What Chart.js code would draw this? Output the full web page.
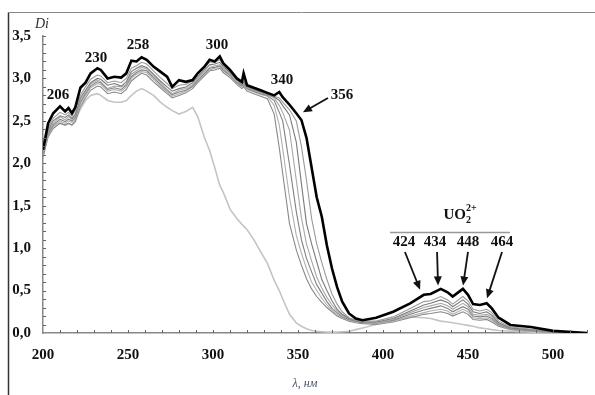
<!DOCTYPE html>
<html>
<head>
<meta charset="utf-8">
<script src="https://cdn.jsdelivr.net/npm/chart.js@4.4.1/dist/chart.umd.min.js"></script>
<style>
  html, body { margin: 0; padding: 0; background: #fff; }
  canvas { display: block; }
</style>
</head>
<body>
<canvas id="spectra" width="595" height="395"></canvas>
<script>
// Wavelength grid (nm) shared by all spectra
const wavelengths = [
  200, 203, 206, 210, 213, 215, 217, 219, 222, 225, 228, 232, 234, 238, 242, 246, 249, 252, 255, 258,
  261, 265, 269, 273, 276, 280, 284, 288, 291, 295, 298, 301, 304, 306, 310, 314, 317, 318, 320, 324,
  328, 332, 336, 339, 341, 345, 349, 352, 355, 358, 361, 364, 367, 370, 373, 376, 380, 384, 388, 396,
  406, 416, 424, 428, 434, 438, 441, 447, 450, 453, 457, 461, 464, 468, 475, 487, 500, 520
];

// Final spectrum (thick black)
const dFinal = [
  2.16, 2.47, 2.59, 2.67, 2.61, 2.65, 2.59, 2.66, 2.89, 2.95, 3.06, 3.12, 3.10, 3.00, 3.02, 3.01, 3.06, 3.21, 3.20, 3.25,
  3.22, 3.14, 3.08, 3.02, 2.90, 2.98, 2.96, 2.98, 3.06, 3.14, 3.22, 3.20, 3.26, 3.18, 3.10, 3.00, 2.96, 3.06, 2.92, 2.89,
  2.86, 2.83, 2.80, 2.84, 2.78, 2.69, 2.59, 2.51, 2.30, 1.95, 1.60, 1.37, 1.03, 0.76, 0.54, 0.37, 0.23, 0.17, 0.15, 0.18,
  0.25, 0.35, 0.45, 0.46, 0.52, 0.48, 0.43, 0.52, 0.45, 0.34, 0.33, 0.35, 0.29, 0.18, 0.095, 0.07, 0.025, 0.0
];

// Intermediate spectra (grey), step 6 is closest to the final one
const dStep6 = [
  2.13, 2.42, 2.53, 2.60, 2.57, 2.60, 2.56, 2.62, 2.80, 2.90, 2.99, 3.04, 3.03, 2.95, 2.97, 2.95, 3.00, 3.12, 3.15, 3.19,
  3.17, 3.09, 3.01, 2.94, 2.88, 2.92, 2.93, 2.97, 3.05, 3.13, 3.19, 3.19, 3.22, 3.16, 3.08, 2.99, 2.95, 2.98, 2.91, 2.88,
  2.85, 2.82, 2.79, 2.77, 2.72, 2.63, 2.50, 2.20, 1.80, 1.35, 1.05, 0.83, 0.63, 0.46, 0.34, 0.25, 0.18, 0.15, 0.14, 0.14,
  0.19, 0.29, 0.37, 0.38, 0.43, 0.39, 0.34, 0.43, 0.38, 0.28, 0.26, 0.28, 0.24, 0.14, 0.07, 0.045, 0.015, 0.0
];
const dStep5 = [
  2.12, 2.39, 2.50, 2.56, 2.54, 2.57, 2.53, 2.58, 2.77, 2.86, 2.95, 3.00, 2.99, 2.92, 2.94, 2.91, 2.96, 3.08, 3.12, 3.15,
  3.13, 3.05, 2.97, 2.90, 2.85, 2.88, 2.90, 2.95, 3.02, 3.10, 3.16, 3.17, 3.19, 3.14, 3.07, 2.98, 2.93, 2.96, 2.90, 2.87,
  2.84, 2.81, 2.78, 2.74, 2.68, 2.57, 2.25, 1.76, 1.29, 1.05, 0.84, 0.63, 0.50, 0.38, 0.28, 0.22, 0.17, 0.15, 0.13, 0.13,
  0.17, 0.26, 0.33, 0.35, 0.39, 0.36, 0.31, 0.39, 0.34, 0.25, 0.23, 0.25, 0.21, 0.12, 0.06, 0.04, 0.012, 0.0
];
const dStep4 = [
  2.10, 2.37, 2.47, 2.55, 2.51, 2.55, 2.52, 2.56, 2.74, 2.84, 2.93, 2.98, 2.96, 2.88, 2.91, 2.90, 2.93, 3.05, 3.09, 3.13,
  3.11, 3.03, 2.95, 2.87, 2.82, 2.86, 2.88, 2.93, 3.00, 3.08, 3.13, 3.15, 3.16, 3.12, 3.05, 2.96, 2.92, 2.94, 2.89, 2.86,
  2.83, 2.81, 2.77, 2.68, 2.60, 2.39, 1.80, 1.36, 1.05, 0.85, 0.66, 0.53, 0.42, 0.33, 0.26, 0.21, 0.17, 0.15, 0.13, 0.12,
  0.16, 0.24, 0.30, 0.32, 0.35, 0.32, 0.28, 0.35, 0.31, 0.22, 0.21, 0.22, 0.19, 0.11, 0.055, 0.035, 0.01, 0.0
];
const dStep3 = [
  2.09, 2.35, 2.45, 2.52, 2.49, 2.52, 2.50, 2.54, 2.72, 2.82, 2.91, 2.96, 2.95, 2.87, 2.89, 2.87, 2.92, 3.02, 3.07, 3.10,
  3.09, 3.01, 2.93, 2.86, 2.81, 2.84, 2.86, 2.91, 2.98, 3.06, 3.12, 3.13, 3.15, 3.10, 3.04, 2.95, 2.91, 2.93, 2.88, 2.85,
  2.82, 2.80, 2.74, 2.60, 2.50, 1.98, 1.43, 1.10, 0.88, 0.72, 0.57, 0.47, 0.37, 0.29, 0.24, 0.19, 0.16, 0.14, 0.12, 0.12,
  0.15, 0.22, 0.27, 0.29, 0.32, 0.29, 0.25, 0.31, 0.28, 0.20, 0.19, 0.20, 0.17, 0.10, 0.05, 0.03, 0.01, 0.0
];
const dStep2 = [
  2.08, 2.33, 2.43, 2.50, 2.47, 2.50, 2.48, 2.52, 2.70, 2.80, 2.89, 2.94, 2.93, 2.85, 2.87, 2.85, 2.90, 3.00, 3.05, 3.08,
  3.07, 2.99, 2.91, 2.84, 2.79, 2.82, 2.85, 2.90, 2.97, 3.05, 3.10, 3.12, 3.14, 3.09, 3.03, 2.94, 2.90, 2.92, 2.87, 2.84,
  2.81, 2.79, 2.68, 2.45, 2.17, 1.60, 1.15, 0.94, 0.76, 0.60, 0.50, 0.41, 0.33, 0.27, 0.22, 0.18, 0.15, 0.13, 0.12, 0.11,
  0.14, 0.20, 0.24, 0.26, 0.28, 0.26, 0.22, 0.28, 0.25, 0.18, 0.17, 0.18, 0.15, 0.09, 0.045, 0.025, 0.008, 0.0
];
const dStep1 = [
  2.07, 2.31, 2.41, 2.47, 2.45, 2.47, 2.45, 2.49, 2.67, 2.77, 2.86, 2.91, 2.90, 2.82, 2.84, 2.82, 2.87, 2.97, 3.02, 3.06,
  3.04, 2.96, 2.89, 2.82, 2.77, 2.80, 2.83, 2.88, 2.95, 3.03, 3.09, 3.10, 3.12, 3.07, 3.01, 2.93, 2.88, 2.90, 2.85, 2.82,
  2.79, 2.76, 2.58, 2.18, 1.88, 1.29, 0.98, 0.80, 0.64, 0.52, 0.43, 0.36, 0.30, 0.25, 0.20, 0.17, 0.14, 0.12, 0.11, 0.10,
  0.13, 0.18, 0.22, 0.23, 0.25, 0.23, 0.20, 0.25, 0.22, 0.16, 0.15, 0.16, 0.13, 0.08, 0.04, 0.02, 0.006, 0.0
];

// Initial spectrum (light grey)
const dInitial = [
  2.08, 2.35, 2.44, 2.48, 2.45, 2.47, 2.45, 2.50, 2.64, 2.74, 2.80, 2.82, 2.80, 2.74, 2.72, 2.72, 2.74, 2.80, 2.85, 2.88,
  2.85, 2.80, 2.72, 2.66, 2.62, 2.58, 2.61, 2.66, 2.55, 2.30, 2.15, 1.95, 1.74, 1.66, 1.46, 1.35, 1.28, 1.26, 1.22, 1.10,
  0.96, 0.82, 0.62, 0.50, 0.40, 0.22, 0.12, 0.08, 0.05, 0.03, 0.02, 0.015, 0.01, 0.01, 0.01, 0.015, 0.02, 0.04, 0.06, 0.10,
  0.15, 0.19, 0.18, 0.17, 0.14, 0.13, 0.12, 0.10, 0.09, 0.08, 0.06, 0.05, 0.04, 0.03, 0.02, 0.01, 0.005, 0.0
];

const xTickValues = [200, 250, 300, 350, 400, 450, 500];
const yTickValues = [0, 0.5, 1.0, 1.5, 2.0, 2.5, 3.0, 3.5];

// peak labels: text, wavelength, D (in data units)
const peakLabels = [
  ['206', 208.8, 2.80], ['230', 231.2, 3.24], ['258', 255.9, 3.39],
  ['300', 302.4, 3.39], ['340', 340.6, 2.98], ['356', 375.9, 2.80],
  ['424', 412.4, 1.07], ['434', 430.6, 1.07], ['448', 450.0, 1.07], ['464', 470.0, 1.07]
];
// arrows: from (nm, D) to (nm, D)
const arrows = [
  [367.6, 2.77, 352.9, 2.60],
  [412.9, 0.955, 421.8, 0.51],
  [431.8, 0.955, 432.4, 0.56],
  [450.0, 0.955, 447.1, 0.56],
  [470.0, 0.955, 461.2, 0.41]
];

const serifBold = '"Liberation Serif", "Times New Roman", serif';

function spectrum(values, color, width) {
  return {
    data: wavelengths.map((w, i) => ({ x: w, y: values[i] })),
    borderColor: color,
    borderWidth: width,
    pointRadius: 0,
    tension: 0,
    fill: false
  };
}

function drawArrow(ctx, x1, y1, x2, y2) {
  const ang = Math.atan2(y2 - y1, x2 - x1);
  const head = 9;
  ctx.beginPath();
  ctx.moveTo(x1, y1);
  ctx.lineTo(x2 - Math.cos(ang) * head * 0.8, y2 - Math.sin(ang) * head * 0.8);
  ctx.stroke();
  ctx.beginPath();
  ctx.moveTo(x2, y2);
  ctx.lineTo(x2 - head * Math.cos(ang) + 4 * Math.sin(ang), y2 - head * Math.sin(ang) - 4 * Math.cos(ang));
  ctx.lineTo(x2 - head * Math.cos(ang) - 4 * Math.sin(ang), y2 - head * Math.sin(ang) + 4 * Math.cos(ang));
  ctx.closePath();
  ctx.fill();
}

const decorations = {
  id: 'decorations',
  afterDraw(chart) {
    const ctx = chart.ctx;
    const xs = chart.scales.x, ys = chart.scales.y;
    const area = chart.chartArea;
    ctx.save();

    // outer frame (left and top only)
    ctx.strokeStyle = '#333';
    ctx.lineWidth = 1.5;
    ctx.beginPath();
    ctx.moveTo(8.5, 395);
    ctx.lineTo(8.5, 12.5);
    ctx.stroke();
    ctx.strokeStyle = '#888';
    ctx.lineWidth = 1;
    ctx.beginPath();
    ctx.moveTo(8, 12.5);
    ctx.lineTo(595, 12.5);
    ctx.stroke();

    // inward minor ticks
    ctx.strokeStyle = '#666';
    ctx.lineWidth = 1;
    ctx.beginPath();
    for (let v = 210; v <= 520; v += 10) {
      const px = Math.round(xs.getPixelForValue(v)) + 0.5;
      ctx.moveTo(px, area.bottom);
      ctx.lineTo(px, area.bottom - 3);
    }
    for (let k = 1; k <= 35; k++) {
      const py = Math.round(ys.getPixelForValue(k / 10)) + 0.5;
      ctx.moveTo(area.left, py);
      ctx.lineTo(area.left + 3, py);
    }
    ctx.stroke();

    // axis titles
    ctx.fillStyle = '#333';
    ctx.font = 'italic 14px ' + serifBold;
    ctx.textAlign = 'left';
    ctx.textBaseline = 'alphabetic';
    ctx.fillText('Di', 35, 28);
    ctx.fillStyle = '#4a5566';
    ctx.font = 'italic 12px ' + serifBold;
    ctx.textAlign = 'center';
    ctx.fillText('λ, нм', 305, 387);

    // peak labels
    ctx.fillStyle = '#111';
    ctx.font = 'bold 15px ' + serifBold;
    ctx.textAlign = 'center';
    ctx.textBaseline = 'middle';
    peakLabels.forEach(([t, w, d]) => {
      ctx.fillText(t, xs.getPixelForValue(w), ys.getPixelForValue(d));
    });

    // arrows
    ctx.strokeStyle = '#111';
    ctx.fillStyle = '#111';
    ctx.lineWidth = 1.8;
    arrows.forEach(([w1, d1, w2, d2]) => {
      drawArrow(ctx, xs.getPixelForValue(w1), ys.getPixelForValue(d1),
        xs.getPixelForValue(w2), ys.getPixelForValue(d2));
    });

    // UO2 2+ caption with rule underneath
    const cx = xs.getPixelForValue(445.3), cy = ys.getPixelForValue(1.34);
    ctx.textBaseline = 'alphabetic';
    ctx.textAlign = 'left';
    ctx.font = 'bold 15px ' + serifBold;
    const wUO = ctx.measureText('UO').width;
    ctx.font = 'bold 10px ' + serifBold;
    const wSup = ctx.measureText('2+').width;
    const x0 = cx - (wUO + wSup) / 2;
    ctx.font = 'bold 15px ' + serifBold;
    ctx.fillText('UO', x0, cy);
    ctx.font = 'bold 10px ' + serifBold;
    ctx.fillText('2', x0 + wUO, cy + 4);
    ctx.fillText('2+', x0 + wUO, cy - 8);
    ctx.strokeStyle = '#999';
    ctx.lineWidth = 1.5;
    const ry = Math.round(ys.getPixelForValue(1.19)) + 0.5;
    ctx.beginPath();
    ctx.moveTo(xs.getPixelForValue(404.1), ry);
    ctx.lineTo(xs.getPixelForValue(474.7), ry);
    ctx.stroke();

    ctx.restore();
  }
};

document.addEventListener('DOMContentLoaded', () => {
  const ctx = document.getElementById('spectra').getContext('2d');
  new Chart(ctx, {
    type: 'line',
    data: {
      datasets: [
        spectrum(dFinal, '#000', 2.6),
        spectrum(dStep6, '#9a9a9a', 1.1),
        spectrum(dStep5, '#7a7a7a', 1.1),
        spectrum(dStep4, '#a8a8a8', 1.1),
        spectrum(dStep3, '#808080', 1.1),
        spectrum(dStep2, '#b0b0b0', 1.1),
        spectrum(dStep1, '#888888', 1.1),
        spectrum(dInitial, '#c4c4c4', 1.6)
      ]
    },
    options: {
      responsive: false,
      animation: false,
      devicePixelRatio: 1,
      layout: { padding: { top: 36, right: 8, left: 0, bottom: 0 } },
      plugins: { legend: { display: false }, tooltip: { enabled: false } },
      scales: {
        x: {
          type: 'linear',
          min: 200,
          max: 520,
          afterFit: s => { s.height = 62; },
          afterBuildTicks: s => { s.ticks = xTickValues.map(v => ({ value: v })); },
          grid: { drawOnChartArea: false, drawTicks: false },
          border: { display: true, color: '#888', width: 1.5 },
          ticks: {
            padding: 13,
            maxRotation: 0,
            autoSkip: false,
            color: '#111',
            font: { family: serifBold, size: 15, weight: 'bold' }
          }
        },
        y: {
          min: 0,
          max: 3.5,
          afterFit: s => { s.width = 43; },
          afterBuildTicks: s => { s.ticks = yTickValues.map(v => ({ value: v })); },
          grid: { drawOnChartArea: false, drawTicks: false },
          border: { display: true, color: '#888', width: 1.5 },
          ticks: {
            padding: 12,
            color: '#111',
            font: { family: serifBold, size: 15, weight: 'bold' },
            callback: v => v.toFixed(1).replace('.', ',')
          }
        }
      }
    },
    plugins: [decorations]
  });
});
</script>
</body>
</html>
